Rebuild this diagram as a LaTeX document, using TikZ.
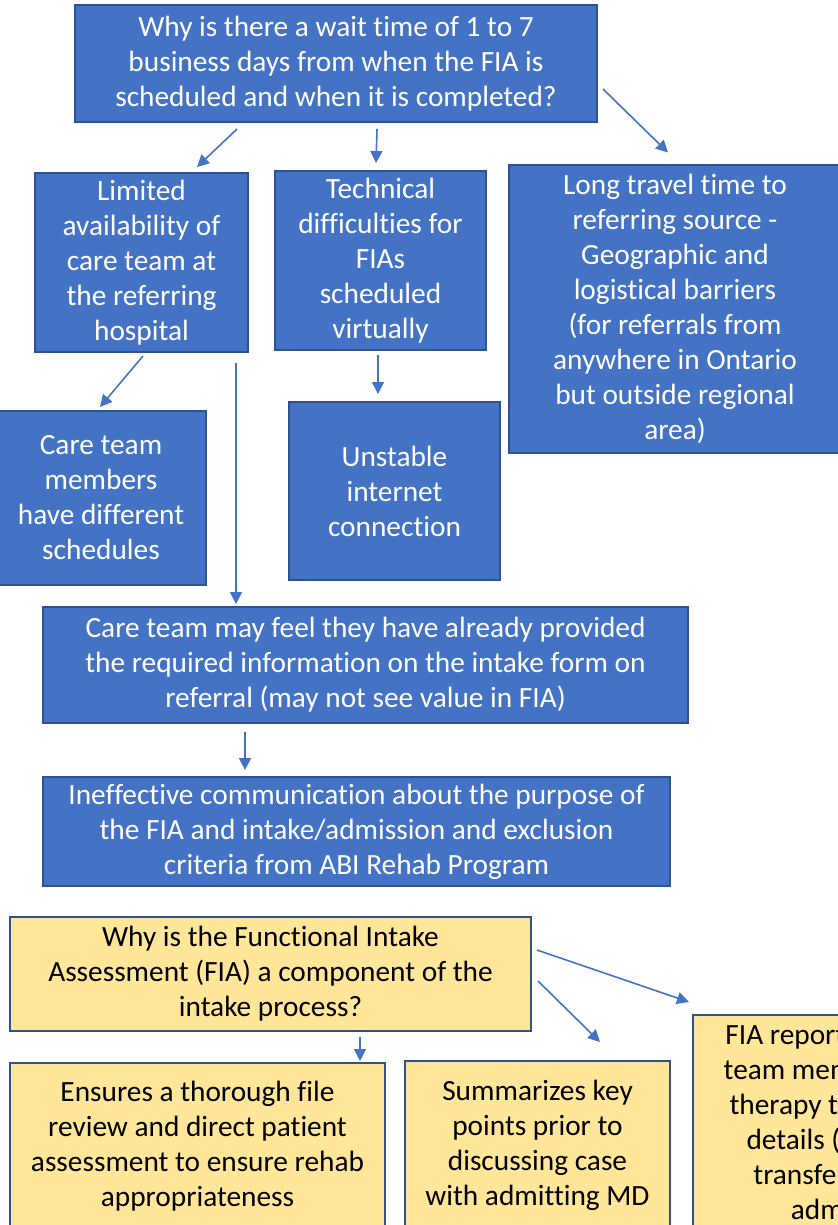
\documentclass[tikz,border=0pt]{standalone}
\usepackage{fontspec}
\setmainfont{Carlito}[Ligatures=NoCommon]
\usepackage{tikz}
\usetikzlibrary{shapes,arrows.meta}
\usetikzlibrary{calc}
\definecolor{myblue}{HTML}{4472C4}
\definecolor{myedge}{HTML}{2F528F}
\definecolor{myyellow}{HTML}{FFE699}
\newcommand\mynode[6][]{%
  \node[mybox,#1,minimum width=#4*0.75pt,minimum height=#5*0.75pt] (#2) at (#3) {#6};
}

\begin{document}
\begin{tikzpicture}[
x=0.75pt, y=-0.75pt,
>={Triangle[length=9pt,width=9pt]},
mybox/.style={
  rectangle,
  draw=myedge,
  line width=1.5pt,
  fill=myblue,
  text=white,
  inner sep=0pt,
  align=center,
  font=\fontsize{22}{26.25}\selectfont},
yellowbox/.style={
  fill=myyellow,
  text=black},
myarrow/.style={
  ->,
  draw=myblue,
  line width=1.2pt}
]
\useasboundingbox (0,0) rectangle (838,1225);
\clip (0,0) rectangle (838,1225);
\mynode{top}{336,63.5}{522}{117}{Why is there a wait time of 1 to 7\\business days from when the FIA is\\scheduled and when it is completed?}
\mynode{limited}{141.5,262.5}{213}{179}{Limited\\availability of\\care team at\\the referring\\hospital}
\mynode{technical}{380.5,260.5}{211}{179}{Technical\\difficulties for\\FIAs\\scheduled\\virtually}
\mynode{travel}{675,308.5}{332}{288}{Long travel time to\\referring source -\\Geographic and\\logistical barriers\\(for referrals from\\anywhere in Ontario\\but outside regional\\area)}
\mynode{members}{101,498}{210}{174}{Care team\\members\\have different\\schedules}
\mynode{unstable}{394.5,491}{211}{178}{Unstable\\internet\\connection}
\mynode{feel}{365.5,665}{645}{116}{Care team may feel they have already provided\\the required information on the intake form on\\referral (may not see value in FIA)}
\mynode{comm}{356.5,831.5}{627}{109}{Ineffective communication about the purpose of\\the FIA and intake/admission and exclusion\\criteria from ABI Rehab Program}
% purpose of the FIA
\mynode[yellowbox]{fia}{270.5,974}{521}{114}{Why is the Functional Intake\\Assessment (FIA) a component of the\\intake process?}
\mynode[yellowbox]{ensures}{197.5,1146}{375}{166}{Ensures a thorough file\\review and direct patient\\assessment to ensure rehab\\appropriateness}
\mynode[yellowbox]{summary}{537.5,1145}{265}{168}{Summarizes key\\points prior to\\discussing case\\with admitting MD}
\mynode[yellowbox]{report}{830,1124.5}{274}{219}{FIA report sent to\\team members to\\therapy team for\\details (e.g., if\\transfer date\\admit)}
\draw [myarrow] ($(top.south)+(-99,6)$) -- ($(limited.north)+(55.5,-5)$);
\draw [myarrow] ($(top.south)+(41,6)$) -- ($(technical.north)+(-4.5,-7)$);
\draw [myarrow] ($(top.east)+(5,25.5)$) -- ($(travel.north)+(-7,-11)$);
\draw [myarrow] ($(limited.south)+(1.5,3)$) -- ($(members.north)+(-1,-3)$);
\draw [myarrow] ($(technical.south)+(-2.5,4)$) -- ($(unstable.north)+(-16.5,-7)$);
\draw [myarrow] ($(limited.south)+(94.5,10)$) -- ($(feel.north)+(-129.5,-2)$);
\draw [myarrow] ($(feel.south)+(-120.5,8)$) -- ($(comm.north)+(-111.5,-6)$);
\draw [myarrow] ($(fia.south)+(89.5,5)$) -- ($(ensures.north)+(162.5,-1)$);
\draw [myarrow] ($(fia.east)+(6,7)$) -- ($(summary.north)+(62.5,-18)$);
\draw [myarrow] ($(fia.east)+(5,-24)$) -- ($(report.north west)+(-3,-12)$);
\end{tikzpicture}
\end{document}
